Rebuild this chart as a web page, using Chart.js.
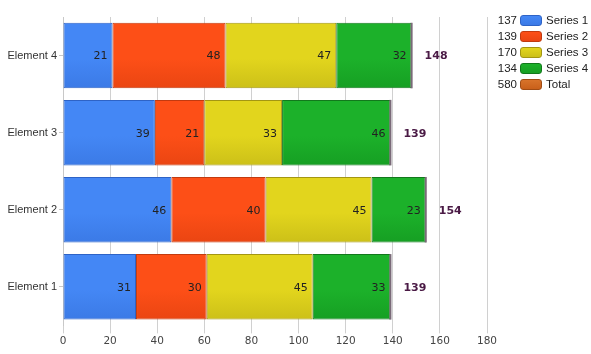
<!DOCTYPE html>
<html>
<head>
<meta charset="utf-8">
<script src="https://cdn.jsdelivr.net/npm/chart.js@4"></script>
<style>
  html, body { margin: 0; padding: 0; background: #fff; }
  #wrap { position: relative; width: 591px; height: 354px; }
  #legend { position: absolute; left: 488px; top: 12px; font: 11.5px "Liberation Sans", Arial, sans-serif; color: #222; }
  #legend .row { height: 16px; display: flex; align-items: center; }
  #legend .num { width: 29px; text-align: right; }
  #legend .box { width: 20px; height: 9px; border-radius: 3px; margin: 0 4px 0 3px; border: 1px solid; }
</style>
</head>
<body>
<div id="wrap">
  <canvas id="grafico" width="591" height="354"></canvas>
  <div id="legend"></div>
</div>
<script>
// Dados
const categorias = ['Element 4', 'Element 3', 'Element 2', 'Element 1'];
const serie1 = [21, 39, 46, 31];
const serie2 = [48, 21, 40, 30];
const serie3 = [47, 33, 45, 45];
const serie4 = [32, 46, 23, 33];
const nomesSeries = ['Series 1', 'Series 2', 'Series 3', 'Series 4'];
const ticksX = [0, 20, 40, 60, 80, 100, 120, 140, 160, 180];

// Cores (topo, base, borda)
const cores = [
    ['#4487f5', '#3b7ae6', '#2e63c6'],
    ['#fd4f17', '#ea4512', '#c23a0f'],
    ['#e2d51d', '#ccc018', '#a39612'],
    ['#1cb12a', '#169f23', '#12781c']
];
const corTotal = ['#d8732a', '#c9601a', '#a04c14'];

const series = [serie1, serie2, serie3, serie4];
const totais = categorias.map((c, i) => series.reduce((t, s) => t + s[i], 0));

// Legenda em HTML
const legenda = document.getElementById('legend');
const itensLegenda = series.map((s, i) => ({
    valor: s.reduce((a, b) => a + b, 0), nome: nomesSeries[i], cor: cores[i]
}));
itensLegenda.push({ valor: totais.reduce((a, b) => a + b, 0), nome: 'Total', cor: corTotal });
itensLegenda.forEach(item => {
    legenda.innerHTML += `<div class="row"><span class="num">${item.valor}</span>` +
        `<span class="box" style="background:linear-gradient(${item.cor[0]},${item.cor[1]});border-color:${item.cor[2]}"></span>` +
        `<span>${item.nome}</span></div>`;
});

// Gradiente por barra
function gradiente(ctx, cor) {
    const chart = ctx.chart;
    if (!chart.chartArea || !chart.scales.y) return cor[0];
    const y = chart.scales.y.getPixelForTick(ctx.dataIndex);
    const g = chart.ctx.createLinearGradient(0, y - 33, 0, y + 33);
    g.addColorStop(0, cor[0]);
    g.addColorStop(0.55, cor[0]);
    g.addColorStop(1, cor[1]);
    return g;
}

// Rótulos dentro das barras e totais
const pluginRotulos = {
    id: 'rotulos',
    afterDatasetsDraw(chart) {
        const ctx = chart.ctx;
        ctx.save();
        ctx.font = '11px "DejaVu Sans", sans-serif';
        ctx.fillStyle = '#222';
        ctx.textAlign = 'right';
        ctx.textBaseline = 'middle';
        chart.data.datasets.forEach((ds, d) => {
            chart.getDatasetMeta(d).data.forEach((bar, i) => {
                ctx.fillText(ds.data[i], bar.x - 5, bar.y + 1);
            });
        });
        const ultimo = chart.getDatasetMeta(chart.data.datasets.length - 1).data;
        ultimo.forEach((bar, i) => {
            ctx.fillStyle = '#7a6a78';
            ctx.fillRect(bar.x - 1, bar.y - bar.height / 2, 2, bar.height);
            ctx.fillStyle = '#4a1a45';
            ctx.font = 'bold 11px "DejaVu Sans", sans-serif';
            ctx.textAlign = 'left';
            ctx.fillText(totais[i], bar.x + 13, bar.y + 1);
        });
        ctx.restore();
    }
};

new Chart(document.getElementById('grafico').getContext('2d'), {
    type: 'bar',
    data: {
        labels: categorias,
        datasets: series.map((s, i) => ({
            label: nomesSeries[i],
            data: s,
            backgroundColor: ctx => gradiente(ctx, cores[i]),
            borderColor: cores[i][2],
            borderWidth: 1,
            borderSkipped: false,
            barPercentage: 0.85,
            categoryPercentage: 1
        }))
    },
    options: {
        indexAxis: 'y',
        responsive: false,
        animation: false,
        layout: { padding: { top: 17, right: 104, left: 0, bottom: 4 } },
        plugins: { legend: { display: false }, tooltip: { enabled: false } },
        scales: {
            x: {
                stacked: true,
                min: 0,
                max: 180,
                afterBuildTicks: s => { s.ticks = ticksX.map(v => ({ value: v })); },
                grid: { color: '#d0d0d0', tickLength: 8 },
                border: { display: false },
                ticks: { color: '#444', font: { family: 'DejaVu Sans', size: 10.5 }, padding: 2, maxRotation: 0 }
            },
            y: {
                stacked: true,
                afterFit: s => { s.width = 63; },
                grid: { drawOnChartArea: false, offset: false, tickLength: 4, color: '#c8c8c8' },
                border: { color: '#c8c8c8' },
                ticks: { color: '#333', font: { family: 'Liberation Sans', size: 11 }, padding: 2 }
            }
        }
    },
    plugins: [pluginRotulos]
});
</script>
</body>
</html>
